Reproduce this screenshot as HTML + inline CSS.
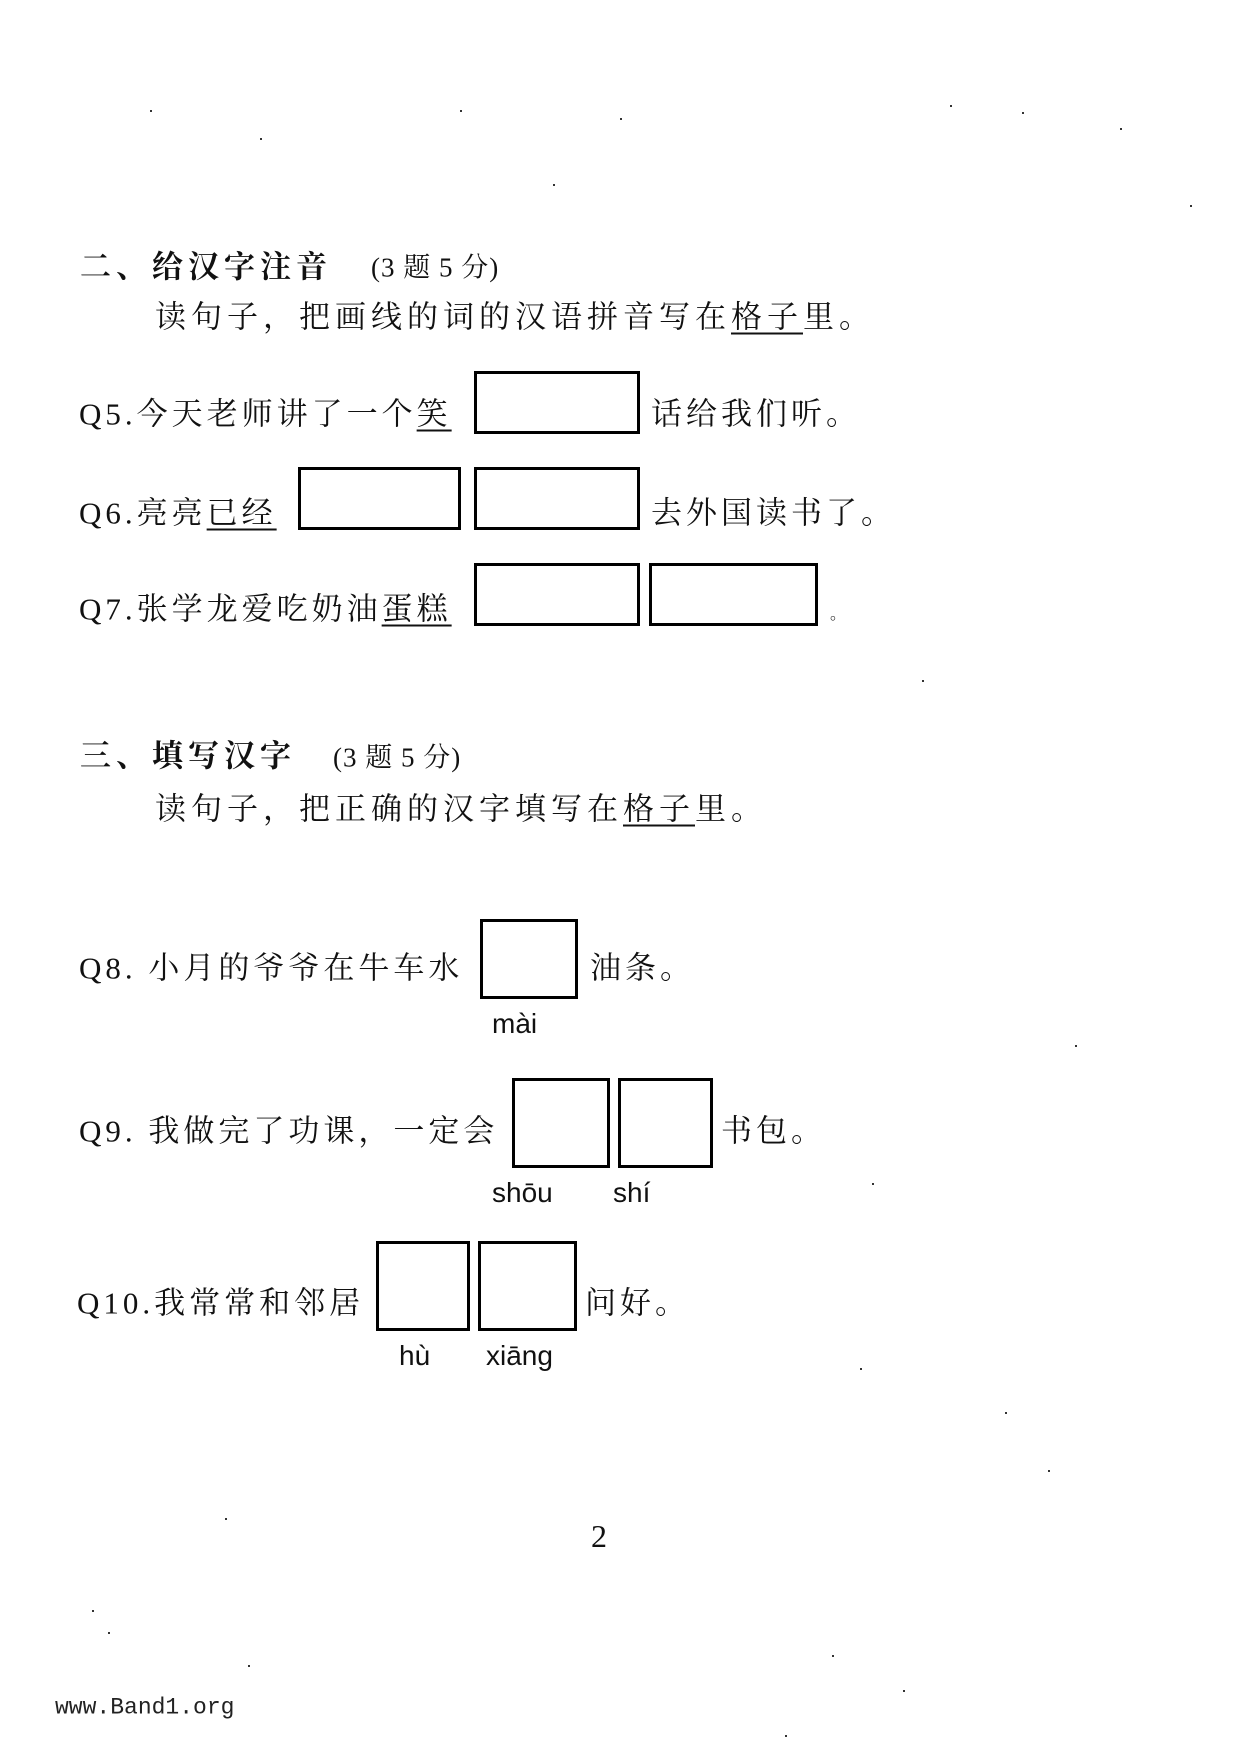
<!DOCTYPE html>
<html><head><meta charset="utf-8"><style>
body{margin:0;background:#fff;}
#p{position:relative;width:1239px;height:1754px;overflow:hidden;background:#fff;color:#111;font-family:"Liberation Serif","Noto Serif CJK SC",serif;}
.t{position:absolute;white-space:nowrap;font-size:31px;letter-spacing:4px;line-height:1;transform:translateY(-50%);}
.h{font-weight:bold;font-family:"Liberation Serif","Noto Serif CJK SC",serif;}
.s{font-size:27px;letter-spacing:1px;}
.b{position:absolute;border:3px solid #000;box-sizing:border-box;}
.u{text-decoration:underline;text-underline-offset:5px;text-decoration-thickness:2px;}
.py{position:absolute;font-family:"Liberation Sans",sans-serif;font-size:28px;transform:translateY(-50%);}
.d{position:absolute;width:2px;height:2px;background:#333;}
</style></head><body><div id="p">
<div class="t h" style="left:80px;top:267px;letter-spacing:5px;">二、给汉字注音</div>
<div class="t s" style="left:371px;top:268px;">(3 题 5 分)</div>
<div class="t" style="left:155px;top:317px;letter-spacing:5px;">读句子，把画线的词的汉语拼音写在<span class="u">格子</span>里。</div>

<div class="t" style="left:79px;top:414px;">Q5.今天老师讲了一个<span class="u">笑</span></div>
<div class="b" style="left:474px;top:371px;width:166px;height:63px;"></div>
<div class="t" style="left:651px;top:414px;">话给我们听。</div>

<div class="t" style="left:79px;top:513px;">Q6.亮亮<span class="u">已经</span></div>
<div class="b" style="left:298px;top:467px;width:163px;height:63px;"></div>
<div class="b" style="left:474px;top:467px;width:166px;height:63px;"></div>
<div class="t" style="left:651px;top:513px;">去外国读书了。</div>

<div class="t" style="left:79px;top:609px;">Q7.张学龙爱吃奶油<span class="u">蛋糕</span></div>
<div class="b" style="left:474px;top:563px;width:166px;height:63px;"></div>
<div class="b" style="left:649px;top:563px;width:169px;height:63px;"></div>
<div class="t" style="left:830px;top:615px;font-size:16px;">。</div>

<div class="t h" style="left:80px;top:756px;letter-spacing:5px;">三、填写汉字</div>
<div class="t s" style="left:333px;top:758px;">(3 题 5 分)</div>
<div class="t" style="left:155px;top:809px;letter-spacing:5px;">读句子，把正确的汉字填写在<span class="u">格子</span>里。</div>

<div class="t" style="left:79px;top:968px;">Q8. 小月的爷爷在牛车水</div>
<div class="b" style="left:480px;top:919px;width:98px;height:80px;"></div>
<div class="t" style="left:590px;top:968px;">油条。</div>
<div class="py" style="left:492px;top:1024px;">mài</div>

<div class="t" style="left:79px;top:1131px;">Q9. 我做完了功课，一定会</div>
<div class="b" style="left:512px;top:1078px;width:98px;height:90px;"></div>
<div class="b" style="left:618px;top:1078px;width:95px;height:90px;"></div>
<div class="t" style="left:721px;top:1131px;">书包。</div>
<div class="py" style="left:492px;top:1193px;">shōu</div>
<div class="py" style="left:613px;top:1193px;">shí</div>

<div class="t" style="left:77px;top:1303px;">Q10.我常常和邻居</div>
<div class="b" style="left:376px;top:1241px;width:94px;height:90px;"></div>
<div class="b" style="left:478px;top:1241px;width:99px;height:90px;"></div>
<div class="t" style="left:585px;top:1303px;">问好。</div>
<div class="py" style="left:399px;top:1356px;">hù</div>
<div class="py" style="left:486px;top:1356px;">xiāng</div>

<div class="t" style="left:591px;top:1536px;font-size:32px;letter-spacing:0;">2</div>
<div class="t" style="left:55px;top:1708px;font-family:'Liberation Mono',monospace;font-size:23px;letter-spacing:0;color:#222;">www.Band1.org</div>

<div class="d" style="left:150px;top:110px"></div><div class="d" style="left:260px;top:138px"></div>
<div class="d" style="left:460px;top:110px"></div><div class="d" style="left:620px;top:118px"></div>
<div class="d" style="left:950px;top:105px"></div><div class="d" style="left:1022px;top:112px"></div>
<div class="d" style="left:1120px;top:128px"></div><div class="d" style="left:553px;top:184px"></div>
<div class="d" style="left:1190px;top:205px"></div><div class="d" style="left:922px;top:680px"></div>
<div class="d" style="left:1075px;top:1045px"></div><div class="d" style="left:872px;top:1183px"></div>
<div class="d" style="left:860px;top:1368px"></div><div class="d" style="left:1005px;top:1412px"></div>
<div class="d" style="left:1048px;top:1470px"></div><div class="d" style="left:225px;top:1518px"></div>
<div class="d" style="left:92px;top:1610px"></div><div class="d" style="left:108px;top:1632px"></div>
<div class="d" style="left:248px;top:1665px"></div><div class="d" style="left:832px;top:1655px"></div>
<div class="d" style="left:903px;top:1690px"></div><div class="d" style="left:785px;top:1735px"></div>
</div></body></html>
